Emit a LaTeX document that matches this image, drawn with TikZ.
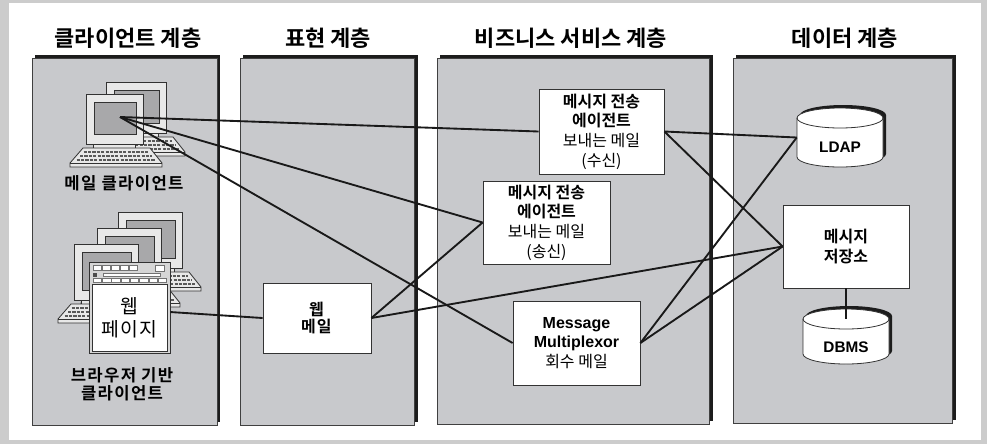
\documentclass[tikz,border=0pt]{standalone}
\usepackage{fontspec}
\setmainfont{Liberation Sans}
\newfontfamily\kr{Noto Sans CJK KR}[BoldFont={Noto Sans CJK KR Bold}]
\newfontfamily\krwide{Noto Sans CJK KR}[BoldFont={Noto Sans CJK KR Bold}, LetterSpace=8]
\usetikzlibrary{fit}

\definecolor{framegray}{RGB}{204,204,204}
\definecolor{panelgray}{RGB}{200,201,204}
\definecolor{shadowblk}{RGB}{28,28,28}
\definecolor{monframe}{RGB}{232,232,232}
\definecolor{monscreen}{RGB}{168,168,170}
\definecolor{monline}{RGB}{50,50,50}
\definecolor{toolgray}{RGB}{214,214,214}

% monitor: top-left x, top-left y, width, height
\newcommand\pcmon[4]{%
  \draw[monedge, fill=monframe] (#1,#2) rectangle ++(#3,#4);
  \draw[monedge, fill=monscreen] ({#1+8},{#2+8}) rectangle ({#1+#3-7},{#2+#4-10});
  \draw[monedge, fill=monframe] ({#1+7},{#2+#4}) rectangle ({#1+#3-8},{#2+#4+4});
}
% keyboard: monitor left x, keyboard top y, monitor width
\newcommand\pckb[3]{%
  \draw[monedge, fill=monframe] ({#1-3},#2) -- ({#1+#3+7},#2) -- ({#1+#3+19},{#2+15})
    -- ({#1+#3+19},{#2+19}) -- ({#1-16},{#2+19}) -- ({#1-16},{#2+15}) -- cycle;
  \draw[monedge] ({#1-16},{#2+15}) -- ({#1+#3+19},{#2+15});
  \foreach \kk in {4,8,12} {
    \draw[keyrow] ({#1-3-13*\kk/15+4},{#2+\kk}) -- ({#1+#3+7+12*\kk/15-4},{#2+\kk});
  }
}
% database cylinder: centre x, top-ellipse centre y, bottom-ellipse centre y
\newcommand\dbcyl[3]{%
  \begin{scope}[shift={(3,-3)}]
    \fill[shadowblk] ({#1-43},#2) -- ({#1-43},#3) arc[start angle=180, end angle=360, x radius=32.25pt, y radius=7.5pt]
      -- ({#1+43},#2) arc[start angle=0, end angle=180, x radius=32.25pt, y radius=7.5pt] -- cycle;
  \end{scope}
  \draw[monedge, fill=white] ({#1-43},#2) -- ({#1-43},#3) arc[start angle=180, end angle=360, x radius=32.25pt, y radius=7.5pt]
      -- ({#1+43},#2) arc[start angle=0, end angle=180, x radius=32.25pt, y radius=7.5pt] -- cycle;
  \draw[monedge] ({#1-43},#2) arc[start angle=180, end angle=360, x radius=32.25pt, y radius=7.5pt];
}

\begin{document}
\begin{tikzpicture}[x=0.75pt, y=-0.75pt,
  monedge/.style={draw=monline, line width=0.6pt},
  keyrow/.style={draw=black!65, line width=1.5pt, dash pattern=on 2.4pt off 0.9pt},
  panel/.style={draw=black!75, line width=0.6pt, fill=panelgray, inner sep=0pt},
  title/.style={font=\kr\bfseries\fontsize{16.5}{18}\selectfont, inner sep=0pt},
  box/.style={draw=black!80, line width=0.6pt, fill=white, inner sep=0pt, align=center,
              font=\kr\fontsize{12}{14.8}\selectfont},
  lbl/.style={font=\krwide\bfseries\fontsize{12.5}{13.8}\selectfont, align=center, inner sep=0pt},
  dblbl/.style={font=\rmfamily\bfseries\fontsize{11.5}{13}\selectfont, inner sep=0pt},
  tbtn/.style={draw=black!55, line width=0.4pt, fill=white},
  link/.style={draw=black!90, line width=1.4pt},
]
\useasboundingbox (0,0) rectangle (987,444);

% page frame
\fill[framegray] (0,0) rectangle (987,444);
\fill[white] (9,3) rectangle (981,440);

% tier panels with drop shadows
\fill[shadowblk] (35,55) rectangle (220,422);
\node[panel, fit={(32,58) (217,425)}] (p1) {};
\fill[shadowblk] (243,55) rectangle (418,422);
\node[panel, fit={(240,58) (414,425)}] (p2) {};
\fill[shadowblk] (440,55) rectangle (713,421);
\node[panel, fit={(437,58) (709,424)}] (p3) {};
\fill[shadowblk] (736,55) rectangle (956,420);
\node[panel, fit={(733,58) (952,423)}] (p4) {};

% tier titles
\node[title] (t1) at (128,38) {클라이언트 계층};
\node[title] (t2) at (328,38) {표현 계층};
\node[title] (t3) at (571,38) {비즈니스 서비스 계층};
\node[title] (t4) at (845,38) {데이터 계층};

% mail client workstations
\pcmon{106}{82}{60}{51}
\pckb{106}{137}{60}
\pcmon{86}{94}{57}{50}
\pckb{86}{148}{57}
\coordinate (mc) at (120,117);
\node[lbl] (mclbl) at (124,183) {메일 클라이언트};

% browser-based client workstations
\pcmon{118}{212}{64}{56}
\pckb{118}{272}{64}
\pcmon{97}{228}{64}{56}
\pckb{97}{288}{64}
\pcmon{74}{244}{64}{56}
\pckb{74}{304}{64}

% browser window
\node[monedge, fill=toolgray, fit={(89,262) (170,353)}, inner sep=0pt] (bwin) {};
\foreach \i in {0,...,4} {
  \draw[tbtn] ({93+9*\i},265) rectangle ({93+9*\i+8},270);
}
\draw[tbtn] (155,265) rectangle (164,271);
\fill[black!70] (93,273) rectangle (97,277);
\draw[tbtn] (103,273) rectangle (160,276);
\foreach \i in {0,...,7} {
  \draw[tbtn] ({93+9.3*\i},278) rectangle ({93+9.3*\i+8.5},282);
}
\node[draw=black!80, line width=0.6pt, fill=white, minimum width=56.25pt, minimum height=50.25pt,
      inner sep=0pt, align=center, font=\krwide\fontsize{14.5}{17.5}\selectfont] (wpage) at (129.5,317.5) {웹\\페이지};
\node[lbl] (bclbl) at (122,384) {브라우저 기반\\클라이언트};

% presentation tier
\node[box, minimum width=81pt, minimum height=52.5pt, font=\krwide\fontsize{12}{13.2}\selectfont]
  (wmail) at (317,318) {\textbf{웹}\\\textbf{메일}};

% business service tier
\node[box, minimum width=93.75pt, minimum height=63.75pt] (mtarecv) at (601.5,131.5)
  {\textbf{메시지 전송}\\\textbf{에이전트}\\보내는 메일\\(수신)};
\node[box, minimum width=95.25pt, minimum height=62.25pt] (mtasend) at (546.5,222.5)
  {\textbf{메시지 전송}\\\textbf{에이전트}\\보내는 메일\\(송신)};
\node[box, minimum width=95.25pt, minimum height=63pt] (mm) at (576.5,343)
  {{\rmfamily\bfseries Message}\\{\rmfamily\bfseries Multiplexor}\\회수 메일};

% data tier
\dbcyl{840}{118}{157}
\node[fit={(797,108) (883,167)}, inner sep=0pt] (ldap) {};
\node[dblbl] (ldaplbl) at (840,147) {LDAP};

\node[box, minimum width=94.5pt, minimum height=62.25pt] (store) at (846,246.5) {\textbf{메시지}\\\textbf{저장소}};

\dbcyl{846}{319}{354}
\node[fit={(803,309) (889,364)}, inner sep=0pt] (dbms) {};
\coordinate (dbmstop) at (846,319);
\node[dblbl] (dbmslbl) at (846,347) {DBMS};

% connections
\draw[link] (mc) -- (mtarecv.west);
\draw[link] (mc) -- (mtasend.west);
\draw[link] (mc) -- (mm.west);
\draw[link] ([yshift=-3.4pt]bwin.east) -- (wmail.west);
\draw[link] (wmail.east) -- (mtasend.west);
\draw[link] (wmail.east) -- (store.west);
\draw[link] (mtarecv.east) -- (ldap.west);
\draw[link] (mtarecv.east) -- (store.west);
\draw[link] (mm.east) -- (ldap.west);
\draw[link] (mm.east) -- (store.west);
\draw[link] (store.south) -- (dbmstop);
\end{tikzpicture}
\end{document}
